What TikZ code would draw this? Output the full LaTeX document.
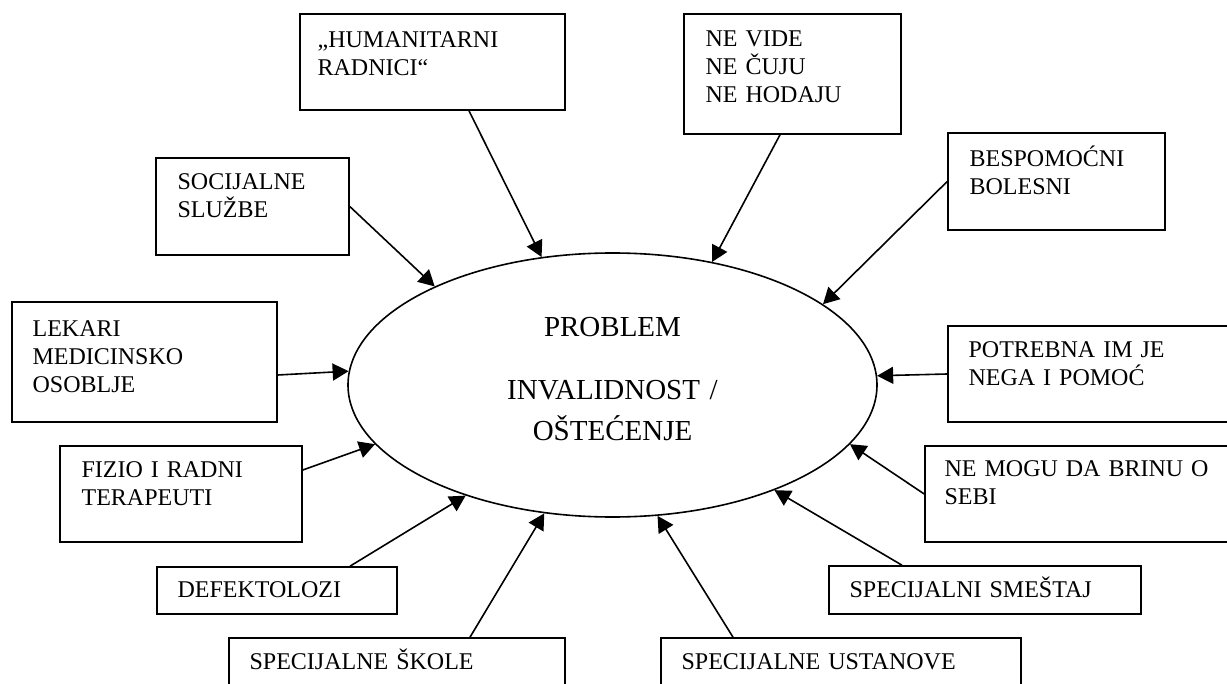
\documentclass[tikz,border=0pt]{standalone}
\usepackage{fontspec}
\setmainfont{Liberation Serif}
\usetikzlibrary{arrows.meta,shapes.geometric,fit}
\tikzset{
  box/.style={draw,line width=0.8pt,inner sep=0pt},
  txt/.style={anchor=base west,inner sep=0pt,text width=150pt,align=left,font=\fontsize{12}{14}\selectfont},
  arr/.style={-{Triangle[length=8pt,width=8.5pt]},line width=0.8pt},
}
\begin{document}
\begin{tikzpicture}[x=0.5pt,y=-0.5pt]
\useasboundingbox (0,0) rectangle (1227,684);
\clip (0,0) rectangle (1227,684);
% centre
\node[draw,ellipse,line width=0.8pt,minimum width=264.5pt,minimum height=132pt] (prob) at (612.5,385) {};
\node[anchor=base,inner sep=0pt,text width=150pt,align=center,font=\fontsize{14.5}{20}\selectfont]
  (prob-t) at (612.5,337) {PROBLEM\\[11.5pt]INVALIDNOST /\\OŠTEĆENJE};
% boxes
\node[box,fit={(300,14)(565,110)}] (hum) {};
\node[box,fit={(684,14)(901,134)}] (vide) {};
\node[box,fit={(948,133)(1165,230)}] (besp) {};
\node[box,fit={(156,158)(349,255)}] (soc) {};
\node[box,fit={(12,302)(277,422)}] (lek) {};
\node[box,fit={(948,326)(1240,422)}] (potr) {};
\node[box,fit={(60,446)(302,542)}] (fiz) {};
\node[box,fit={(925,446)(1240,542)}] (mogu) {};
\node[box,fit={(157,567)(397,614)}] (def) {};
\node[box,fit={(829,566)(1141,614)}] (smes) {};
\node[box,fit={(229,638)(565,700)}] (skol) {};
\node[box,fit={(661,638)(1021,700)}] (ust) {};
% texts
\node[txt] (hum-t) at ([shift={(18,34)}]hum.north west) {„HUMANITARNI\\RADNICI“};
\node[txt] (vide-t) at ([shift={(22,33)}]vide.north west) {NE VIDE\\NE ČUJU\\NE HODAJU};
\node[txt] (besp-t) at ([shift={(22,34)}]besp.north west) {BESPOMOĆNI\\BOLESNI};
\node[txt] (soc-t) at ([shift={(22,32)}]soc.north west) {SOCIJALNE\\SLUŽBE};
\node[txt] (lek-t) at ([shift={(21,35)}]lek.north west) {LEKARI\\MEDICINSKO\\OSOBLJE};
\node[txt] (potr-t) at ([shift={(21,32)}]potr.north west) {POTREBNA IM JE\\NEGA I POMOĆ};
\node[txt] (fiz-t) at ([shift={(22,32)}]fiz.north west) {FIZIO I RADNI\\TERAPEUTI};
\node[txt] (mogu-t) at ([shift={(20,31)}]mogu.north west) {NE MOGU DA BRINU O\\SEBI};
\node[txt] (def-t) at ([shift={(21,31)}]def.north west) {DEFEKTOLOZI};
\node[txt] (smes-t) at ([shift={(21,32)}]smes.north west) {SPECIJALNI SMEŠTAJ};
\node[txt] (skol-t) at ([shift={(21,32)}]skol.north west) {SPECIJALNE ŠKOLE};
\node[txt] (ust-t) at ([shift={(21,32)}]ust.north west) {SPECIJALNE USTANOVE};
% arrows
\draw[arr] ([shift={(36.5,0)}]hum.south) -- (prob.119);
\draw[arr] ([shift={(-12.5,0)}]vide.south) -- (prob.51.6);
\draw[arr] (besp.west) -- (prob.21);
\draw[arr] (soc.east) -- (prob.151.5);
\draw[arr] ([shift={(0,13)}]lek.east) -- (prob.177.8);
\draw[arr] (potr.west) -- (prob.2.4);
\draw[arr] ([shift={(0,-24)}]fiz.east) -- (prob.194.7);
\draw[arr] ([shift={(73,0)}]def.north) -- (prob.217.1);
\draw[arr] ([shift={(73,0)}]skol.north) -- (prob.242);
\draw[arr] ([shift={(-108,0)}]ust.north) -- (prob.289.1);
\draw[arr] ([shift={(-83,0)}]smes.north) -- (prob.327.3);
\draw[arr] (mogu.west) -- (prob.346.3);
\end{tikzpicture}
\end{document}
